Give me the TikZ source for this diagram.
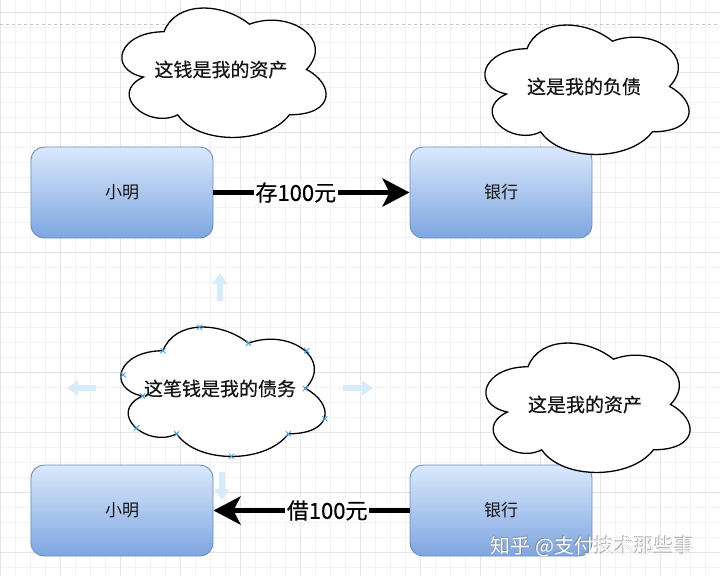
\documentclass[tikz,border=0pt]{standalone}
\usepackage{fontspec}
\setmainfont{Noto Sans CJK SC}
\newfontfamily\heavycjk[FakeBold=0.5]{Noto Sans CJK SC}
\usetikzlibrary{arrows.meta,shadings,calc}

\definecolor{gridminor}{HTML}{F2F2F2}
\definecolor{gridmajor}{HTML}{E4E4E4}
\definecolor{pagebreak}{HTML}{C4C4C4}
\definecolor{boxtop}{HTML}{DAE8FC}
\definecolor{boxbottom}{HTML}{7EA6E0}
\definecolor{boxline}{HTML}{6C8EBF}
\definecolor{hoverblue}{HTML}{D6ECFA}
\definecolor{pointblue}{HTML}{4A9EDB}
\definecolor{inkdark}{HTML}{141414}

\tikzset{
  account/.style={draw=boxline, line width=0.9pt, rounded corners=13pt,
    top color=boxtop, bottom color=boxbottom, shading angle=0,
    minimum width=182pt, minimum height=91pt, inner sep=0pt,
    text=inkdark, font=\fontsize{17}{17}\selectfont},
  thought/.style={inner sep=0pt, text=inkdark, font=\heavycjk\fontsize{19}{19}\selectfont},
  cloudline/.style={draw=black, fill=white, line width=1.3pt},
  flow/.style={line width=5pt, -{Stealth[length=27pt, width=28pt, inset=7pt]}},
  flowlabel/.style={fill=white, inner sep=1.5pt, text=black,
    font=\heavycjk\fontsize{22}{22}\selectfont},
  hover/.style={line width=6pt, hoverblue, -{Triangle[length=11pt, width=15pt]}},
  connpt/.style={pointblue, line width=0.9pt},
  wmshadow/.style={text=black!55, opacity=0.55, font=\fontsize{20}{20}\selectfont},
  wmtext/.style={text=white, font=\fontsize{20}{20}\selectfont}
}

% cloud outline inside a 228 x 151 cell whose top-left corner is (#1,#2)
\newcommand{\mycloud}[2]{%
  \begin{scope}[shift={(#1,#2)}, x=228pt, y=-151pt]
    \draw[cloudline] (0.25,0.25) .. controls (0.05,0.25) and (0,0.5) .. (0.16,0.55)
      .. controls (0,0.66) and (0.18,0.9) .. (0.31,0.8)
      .. controls (0.4,1) and (0.7,1) .. (0.8,0.8)
      .. controls (1,0.8) and (1,0.6) .. (0.875,0.5)
      .. controls (1,0.3) and (0.8,0.1) .. (0.625,0.2)
      .. controls (0.5,0.05) and (0.3,0.05) .. (0.25,0.25) -- cycle;
  \end{scope}}

% small connection-point cross centred on a named coordinate
\newcommand{\conncross}[1]{%
  \draw[connpt] ($(#1)+(-2.5,-2.5)$) -- ($(#1)+(2.5,2.5)$)
                ($(#1)+(-2.5,2.5)$) -- ($(#1)+(2.5,-2.5)$);}

\begin{document}
\begin{tikzpicture}[x=1pt, y=-1pt]
  \useasboundingbox (0,0) rectangle (720,576);
  \fill[white] (0,0) rectangle (720,576);

  % background grid
  \foreach \gx in {15,30,...,720} \draw[gridminor, line width=0.8pt] (\gx,0) -- (\gx,576);
  \foreach \gy in {12.5,27.5,...,576} \draw[gridminor, line width=0.8pt] (0,\gy) -- (720,\gy);
  \foreach \gx in {0,60,...,720} \draw[gridmajor, line width=0.8pt] (\gx,0) -- (\gx,576);
  \foreach \gy in {12.5,72.5,...,576} \draw[gridmajor, line width=0.8pt] (0,\gy) -- (720,\gy);

  % page break line
  \draw[pagebreak, line width=0.8pt, dash pattern=on 3pt off 3pt] (0,24.3) -- (720,24.3);

  % accounts
  \node[account] (ming1) at (122,192.5) {小明};
  \node[account] (bank1) at (501,192.5) {银行};
  \node[account] (ming2) at (122,510.5) {小明};
  \node[account] (bank2) at (501,510.5) {银行};

  % thought clouds
  \mycloud{107}{-6}
  \node[thought] (think1) at (221,69.5) {这钱是我的资产};
  \mycloud{470}{11}
  \node[thought] (think2) at (584,86.5) {这是我的负债};
  \mycloud{106}{313}
  \node[thought] (think3) at (220,388.5) {这笔钱是我的债务};
  \mycloud{471}{329}
  \node[thought] (think4) at (585,404.5) {这是我的资产};

  % money flows
  \draw[flow] (ming1.east) -- node[flowlabel, pos=0.42] (deposit) {存100元} (bank1.west);
  \draw[flow] (bank2.west) -- node[flowlabel, pos=0.42] (loan) {借100元} (ming2.east);

  % connection points of the selected cloud
  \foreach \px/\py in {0.41/0.094, 0.25/0.25, 0.625/0.2, 0.88/0.25,
                       0.075/0.41, 0.16/0.55, 0.875/0.5, 0.96/0.7,
                       0.135/0.76, 0.31/0.8, 0.8/0.8, 0.55/0.95}{
    \coordinate (cp) at ({106+228*\px},{313+151*\py});
    \conncross{cp}
  }

  % hover arrows around the selected cloud
  \coordinate (hupA) at (220,301);   \coordinate (hupB) at (220,273);
  \coordinate (hlfA) at (96,388);    \coordinate (hlfB) at (67,388);
  \coordinate (hrtA) at (343,388);   \coordinate (hrtB) at (373,388);
  \coordinate (hdnA) at (222,472);   \coordinate (hdnB) at (222,500);
  \draw[hover] (hupA) -- (hupB);
  \draw[hover] (hlfA) -- (hlfB);
  \draw[hover] (hrtA) -- (hrtB);
  \draw[hover] (hdnA) -- (hdnB);

  % watermark
  \node[wmshadow] (wmshade1) at (593.2,547.2) {知乎 @支付技术那些事};
  \node[wmshadow] (wmshade2) at (591.8,545.8) {知乎 @支付技术那些事};
  \node[wmtext] (wm) at (592.5,546.5) {知乎 @支付技术那些事};
\end{tikzpicture}
\end{document}
